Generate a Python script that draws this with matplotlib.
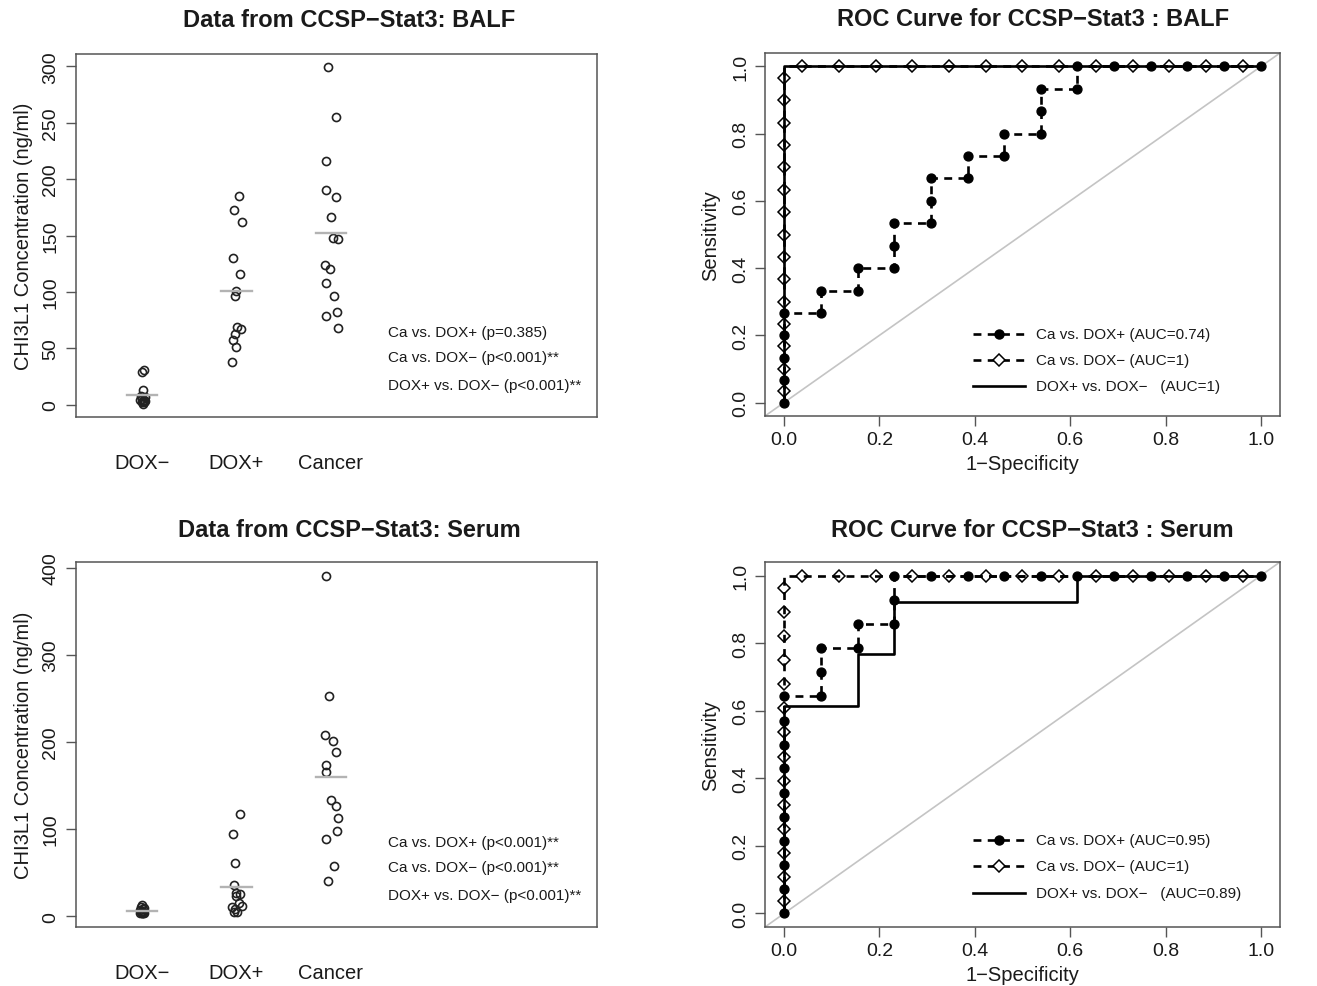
import numpy as np
import matplotlib
matplotlib.use("Agg")
import matplotlib.pyplot as plt

plt.rcParams['font.family'] = ['Liberation Sans', 'DejaVu Sans']

# ---------------- data ----------------
groups = ['DOX\u2212', 'DOX+', 'Cancer']

balf_dox_neg = [31, 29, 13, 8, 7, 5, 4, 4, 3, 3, 2, 2, 1]
balf_dox_pos = [185, 173, 162, 130, 116, 101, 96, 69, 67, 63, 57, 51, 38]
balf_cancer = [299, 255, 216, 190, 184, 166, 148, 147, 124, 120, 108, 96, 82, 79, 68]
balf_jit_neg = [0.02, 0.0, 0.01, -0.01, 0.03, 0.0, 0.02, -0.02, 0.01, 0.03, 0.0, 0.02, 0.01]
balf_jit_pos = [0.025, -0.028, 0.06, -0.035, 0.042, -0.004, -0.011, 0.007, 0.05, -0.011, -0.039, 0.0, -0.042]
balf_jit_can = [-0.028, 0.053, -0.046, -0.046, 0.05, 0.007, 0.025, 0.078, -0.064, -0.011, -0.046, 0.032, 0.06, -0.053, 0.078]

serum_dox_neg = [13, 11, 9, 8, 7, 6, 5, 5, 4, 4, 3, 3, 3]
serum_dox_pos = [117.5, 94.5, 61, 36, 27, 25, 23, 15, 12, 10, 8, 5, 5]
serum_cancer = [391, 253, 208, 201, 188, 173, 165, 133, 126, 113, 98, 88, 58, 40]
serum_jit_neg = [0.0, -0.01, 0.02, 0.01, -0.02, 0.0, 0.01, -0.01, 0.02, 0.0, -0.02, 0.01, 0.0]
serum_jit_pos = [0.042, -0.035, -0.018, -0.028, 0.0, 0.042, -0.004, 0.025, 0.06, -0.046, -0.011, -0.028, 0.007]
serum_jit_can = [-0.053, -0.018, -0.064, 0.025, 0.05, -0.046, -0.046, 0.007, 0.053, 0.071, 0.06, -0.046, 0.032, -0.025]

balf_yticks = [0, 50, 100, 150, 200, 250, 300]
serum_yticks = [0, 100, 200, 300, 400]

balf_notes = ['Ca vs. DOX+ (p=0.385)',
              'Ca vs. DOX\u2212 (p<0.001)**',
              'DOX+ vs. DOX\u2212 (p<0.001)**']
serum_notes = ['Ca vs. DOX+ (p<0.001)**',
               'Ca vs. DOX\u2212 (p<0.001)**',
               'DOX+ vs. DOX\u2212 (p<0.001)**']

# ROC: BALF
balf_a_fpr = [0, 0, 0, 0, 0, 0.077, 0.077, 0.154, 0.154, 0.231, 0.231, 0.231, 0.308, 0.308, 0.308,
              0.385, 0.385, 0.462, 0.462, 0.538, 0.538, 0.538, 0.615, 0.615, 0.692, 0.769, 0.846, 0.923, 1.0]
balf_a_tpr = [0, 0.067, 0.133, 0.2, 0.267, 0.267, 0.333, 0.333, 0.4, 0.4, 0.467, 0.533, 0.533, 0.6, 0.667,
              0.667, 0.733, 0.733, 0.8, 0.8, 0.867, 0.933, 0.933, 1.0, 1.0, 1.0, 1.0, 1.0, 1.0]
balf_b_fpr = [0, 0, 1.0]
balf_b_tpr = [0, 1.0, 1.0]
balf_b_mk_fpr = [0] * 15 + [0.038, 0.115, 0.192, 0.269, 0.346, 0.423, 0.5, 0.577, 0.654, 0.731, 0.808, 0.885, 0.962]
balf_b_mk_tpr = [0.033, 0.1, 0.167, 0.233, 0.3, 0.367, 0.433, 0.5, 0.567, 0.633, 0.7, 0.767, 0.833, 0.9, 0.967] + [1.0] * 13
balf_c_fpr = [0, 0, 1.0]
balf_c_tpr = [0, 1.0, 1.0]
balf_labels = ['Ca vs. DOX+ (AUC=0.74)', 'Ca vs. DOX\u2212 (AUC=1)', 'DOX+ vs. DOX\u2212   (AUC=1)']

# ROC: Serum
serum_a_fpr = [0] * 10 + [0.077, 0.077, 0.077, 0.154, 0.154, 0.231, 0.231, 0.231,
                          0.308, 0.385, 0.462, 0.538, 0.615, 0.692, 0.769, 0.846, 0.923, 1.0]
serum_a_tpr = [0, 0.071, 0.143, 0.214, 0.286, 0.357, 0.429, 0.5, 0.571, 0.643,
               0.643, 0.714, 0.786, 0.786, 0.857, 0.857, 0.929, 1.0] + [1.0] * 10
serum_b_fpr = [0, 0, 1.0]
serum_b_tpr = [0, 1.0, 1.0]
serum_b_mk_fpr = [0] * 14 + [0.038, 0.115, 0.192, 0.269, 0.346, 0.423, 0.5, 0.577, 0.654, 0.731, 0.808, 0.885, 0.962]
serum_b_mk_tpr = [0.036, 0.107, 0.179, 0.25, 0.321, 0.393, 0.464, 0.536, 0.607, 0.679, 0.75, 0.821, 0.893, 0.964] + [1.0] * 13
serum_c_fpr = [0, 0, 0.154, 0.154, 0.231, 0.231, 0.615, 0.615, 1.0]
serum_c_tpr = [0, 0.615, 0.615, 0.769, 0.769, 0.923, 0.923, 1.0, 1.0]
serum_labels = ['Ca vs. DOX+ (AUC=0.95)', 'Ca vs. DOX\u2212 (AUC=1)', 'DOX+ vs. DOX\u2212   (AUC=0.89)']

roc_ticks = [0.0, 0.2, 0.4, 0.6, 0.8, 1.0]

# ---------------- styling ----------------
W, H = 1317, 987
fig = plt.figure(figsize=(W / 100, H / 100), dpi=100)
TXT = '#1a1a1a'
SPINE = '#555555'
DASH = (0, (3.0, 2.4))
LW = 1.9


def px_axes(x0, y0, x1, y1):
    return fig.add_axes([x0 / W, 1 - y1 / H, (x1 - x0) / W, (y1 - y0) / H])


def style_spines(ax):
    for s in ax.spines.values():
        s.set_color(SPINE)
        s.set_linewidth(1.1)


def scatter_panel(ax, data, jits, title, yticks, notes, title_pad):
    for i, (vals, jit) in enumerate(zip(data, jits)):
        pos = i + 1
        ax.plot(pos + np.asarray(jit), vals, 'o', mfc='none', mec='#222222',
                ms=5.8, mew=1.2, zorder=3)
        m = np.mean(vals)
        ax.plot([pos - 0.16, pos + 0.16], [m, m], color='#b3b3b3', lw=1.7, zorder=4)
    lo = min(min(d) for d in data)
    hi = max(max(d) for d in data)
    pad = 0.04 * (hi - lo)
    ax.set_ylim(lo - pad, hi + pad)
    ax.set_xlim(0.3, 5.82)
    ax.set_xticks([1, 2, 3])
    ax.set_xticklabels(groups, fontsize=14.5, color=TXT)
    ax.tick_params(axis='x', length=0, pad=26)
    ax.set_yticks(yticks)
    ax.set_yticklabels([str(t) for t in yticks], rotation=90, va='center',
                       fontsize=14, color=TXT)
    ax.tick_params(axis='y', length=7, width=1.0, color=SPINE, pad=5)
    ax.set_ylabel('CHI3L1 Concentration (ng/ml)', fontsize=14.5, color=TXT, labelpad=7)
    ax.set_title(title, fontsize=17, fontweight='bold', color=TXT, pad=title_pad, x=0.525)
    for txt, yf in zip(notes, [0.234, 0.165, 0.088]):
        ax.text(0.599, yf, txt, transform=ax.transAxes, fontsize=11, color=TXT,
                ha='left', va='center')
    style_spines(ax)


def roc_panel(ax, a, b, bmk, c, labels, title, yrows, title_pad):
    ax.axline((0, 0), slope=1, color='#c4c4c4', lw=1.2, zorder=1)
    ax.plot(b[0], b[1], color='black', lw=LW, linestyle=DASH, zorder=2)
    ax.plot(c[0], c[1], color='black', lw=LW, linestyle='-', zorder=3)
    ax.plot(bmk[0], bmk[1], linestyle='none', marker='D', ms=5.8, mfc='none',
            mec='black', mew=1.1, zorder=4)
    ax.plot(a[0], a[1], color='black', lw=LW, linestyle=DASH, marker='o', ms=6.4,
            mfc='black', mec='black', zorder=5)
    ax.set_xlim(-0.04, 1.04)
    ax.set_ylim(-0.04, 1.04)
    ax.set_xticks(roc_ticks)
    ax.set_xticklabels(['%.1f' % t for t in roc_ticks], fontsize=14, color=TXT)
    ax.set_yticks(roc_ticks)
    ax.set_yticklabels(['%.1f' % t for t in roc_ticks], rotation=90, va='center',
                       fontsize=14, color=TXT)
    ax.tick_params(axis='both', length=7, width=1.0, color=SPINE, pad=4)
    ax.set_xlabel('1\u2212Specificity', fontsize=14.5, color=TXT, labelpad=4)
    ax.set_ylabel('Sensitivity', fontsize=14.5, color=TXT, labelpad=9)
    ax.set_title(title, fontsize=17, fontweight='bold', color=TXT, pad=title_pad, x=0.52)
    # legend (drawn by hand, no frame)
    x0, x1, xt = 0.404, 0.505, 0.527
    xm = (x0 + x1) / 2
    styles = [dict(ls=DASH, marker='o', mfc='black', ms=6.4),
              dict(ls=DASH, marker='D', mfc='white', ms=5.8),
              dict(ls='-', marker=None, mfc='none', ms=0)]
    for lab, yf, st in zip(labels, yrows, styles):
        ax.plot([x0, x1], [yf, yf], transform=ax.transAxes, color='black',
                lw=LW, linestyle=st['ls'], clip_on=False, zorder=6)
        if st['marker']:
            ax.plot([xm], [yf], transform=ax.transAxes, marker=st['marker'],
                    ms=st['ms'], mfc=st['mfc'], mec='black', mew=1.1,
                    linestyle='none', clip_on=False, zorder=7)
        ax.text(xt, yf, lab, transform=ax.transAxes, fontsize=11, color=TXT,
                ha='left', va='center')
    style_spines(ax)


ax1 = px_axes(76, 55, 597, 418)
scatter_panel(ax1, [balf_dox_neg, balf_dox_pos, balf_cancer],
              [balf_jit_neg, balf_jit_pos, balf_jit_can],
              'Data from CCSP\u2212Stat3: BALF', balf_yticks, balf_notes, 20)

ax3 = px_axes(76, 563, 597, 928)
scatter_panel(ax3, [serum_dox_neg, serum_dox_pos, serum_cancer],
              [serum_jit_neg, serum_jit_pos, serum_jit_can],
              'Data from CCSP\u2212Stat3: Serum', serum_yticks, serum_notes, 19)

ax2 = px_axes(765, 54, 1280, 417)
roc_panel(ax2, (balf_a_fpr, balf_a_tpr), (balf_b_fpr, balf_b_tpr),
          (balf_b_mk_fpr, balf_b_mk_tpr), (balf_c_fpr, balf_c_tpr),
          balf_labels, 'ROC Curve for CCSP\u2212Stat3 : BALF', [0.226, 0.154, 0.083], 20)

ax4 = px_axes(765, 563, 1280, 928)
roc_panel(ax4, (serum_a_fpr, serum_a_tpr), (serum_b_fpr, serum_b_tpr),
          (serum_b_mk_fpr, serum_b_mk_tpr), (serum_c_fpr, serum_c_tpr),
          serum_labels, 'ROC Curve for CCSP\u2212Stat3 : Serum', [0.238, 0.167, 0.093], 19)

fig.savefig('out.png', dpi=100)
